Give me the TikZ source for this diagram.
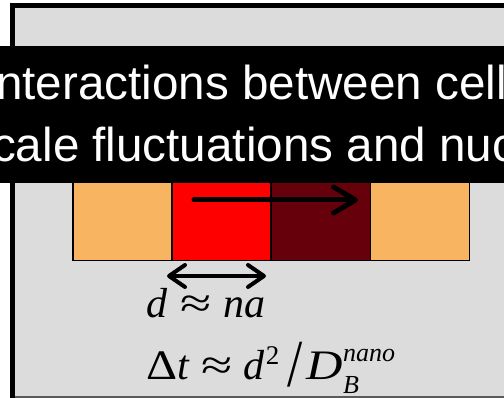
\documentclass[tikz,border=0pt]{standalone}
\usepackage{fontspec}
\setmainfont{Liberation Serif}
\newfontfamily\arialfont{Liberation Sans}
\usetikzlibrary{arrows.meta}
\definecolor{bggray}{HTML}{DCDCDC}
\definecolor{edgegray}{HTML}{5A5A5A}
\definecolor{cellorange}{HTML}{F9B462}
\definecolor{cellred}{HTML}{FF0000}
\definecolor{celldark}{HTML}{66000A}
\tikzset{
  cellbox/.style={draw=black, line width=1.5pt, minimum width=99pt, minimum height=214pt, inner sep=0pt, outer sep=0pt},
  bigarrow/.style={line width=5pt, line cap=round, -{Straight Barb[length=22pt,width=26pt,line cap=round,line join=round]}},
  dblarrow/.style={line width=4pt, line cap=round, {Straight Barb[length=16pt,width=22pt,line cap=round,line join=round]}-{Straight Barb[length=16pt,width=22pt,line cap=round,line join=round]}},
  bandtext/.style={anchor=base west, text=white, inner sep=0pt, font=\arialfont\fontsize{47.6}{47.6}\selectfont},
  formula/.style={anchor=base west, inner sep=0pt, font=\fontsize{42}{42}\selectfont}
}
\begin{document}
\begin{tikzpicture}[x=1pt,y=-1pt]
\useasboundingbox (0,0) rectangle (504,398);
\clip (0,0) rectangle (504,398);
% frame
\fill[black] (10,3) rectangle (510,402);
\fill[bggray] (15,8) rectangle (504,396);
\fill[edgegray] (15,396) rectangle (504,398);
% cells
\node[cellbox, fill=cellorange] (c1) at (122.5,153.5) {};
\node[cellbox, fill=cellred]    (c2) at (221.5,153.5) {};
\node[cellbox, fill=celldark]   (c3) at (321,153.5) {};
\node[cellbox, fill=cellorange] (c4) at (420,153.5) {};
% arrow across cells
\coordinate (a1) at (194,200);
\coordinate (a2) at (358,200);
\draw[bigarrow] (a1) -- (a2);
% black caption band
\fill[black] (-2,46) rectangle (506,183);
\node[bandtext] (t1) at (-4,100) {nteractions between cell};
\node[bandtext] (t2) at (-8,162) {cale fluctuations and nuc};
% double arrow
\coordinate (d1) at (167,276);
\coordinate (d2) at (266,276);
\draw[dblarrow] (d1) -- (d2);
% formulas
\node[formula] (f1) at (146,318) {\textit{d}\hspace{13pt}\scalebox{1.35}[1]{≈}\hspace{12pt}\textit{na}};
\node[formula] (f2) at (146,380) {\scalebox{1.15}[1]{Δ}\textit{t}\hspace{12pt}\scalebox{1.35}[1]{≈}\hspace{11pt}\textit{d}\hspace{1pt}\raisebox{15pt}{\fontsize{27}{27}\selectfont 2}\hspace{8pt}\raisebox{-7pt}{\scalebox{1.3}[1.6]{/}}\hspace{4pt}\scalebox{1.2}[1]{\textit{D}}\hbox{\rlap{\raisebox{-14pt}{\fontsize{26}{26}\selectfont\itshape B}}\raisebox{18pt}{\fontsize{26}{26}\selectfont\itshape nano}}};
\end{tikzpicture}
\end{document}
